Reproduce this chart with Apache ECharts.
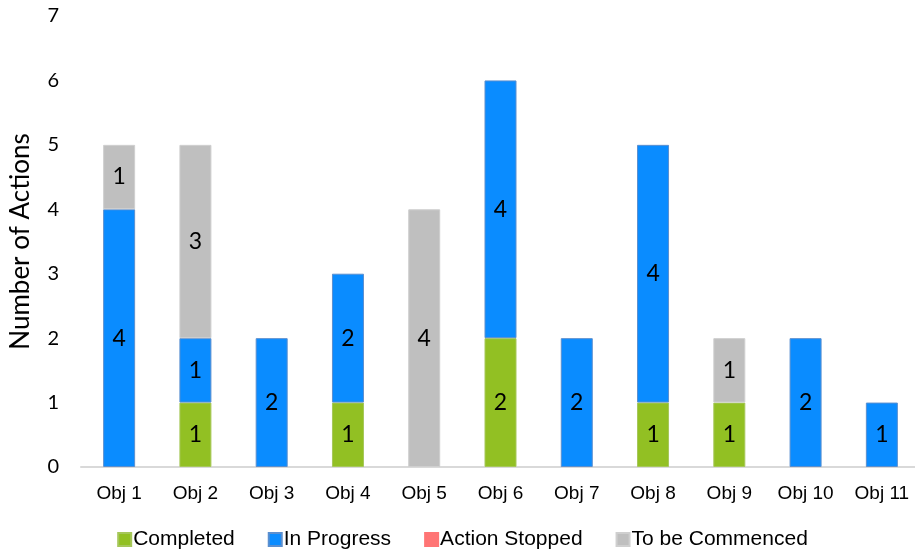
<!DOCTYPE html>
<html>
<head>
<meta charset="utf-8">
<script src="https://cdn.jsdelivr.net/npm/echarts@6/dist/echarts.min.js"></script>
<style>
  html, body { margin: 0; padding: 0; background: #fff; overflow: hidden; }
  #chart { width: 925px; height: 557px; }
</style>
</head>
<body>
<div id="chart"></div>
<script>
const categories = ['Obj 1', 'Obj 2', 'Obj 3', 'Obj 4', 'Obj 5', 'Obj 6', 'Obj 7', 'Obj 8', 'Obj 9', 'Obj 10', 'Obj 11'];
const completed = [0, 1, 0, 1, 0, 2, 0, 1, 1, 0, 0];
const inProgress = [4, 1, 2, 2, 0, 4, 2, 4, 0, 2, 1];
const actionStopped = [0, 0, 0, 0, 0, 0, 0, 0, 0, 0, 0];
const toBeCommenced = [1, 3, 0, 0, 4, 0, 0, 0, 1, 0, 0];
const yTicks = [0, 1, 2, 3, 4, 5, 6, 7];

const SANS = '"Liberation Sans", Arial, sans-serif';
const HUMANIST = 'Lato, "Open Sans", sans-serif';

function stackSeries(name, values, fill, border) {
  return {
    name: name,
    type: 'bar',
    stack: 'total',
    barWidth: 32,
    // empty segments are left out so they draw no outline
    data: values.map(v => (v ? v : null)),
    itemStyle: { color: fill, borderColor: border, borderWidth: 1 },
    label: {
      show: true,
      position: 'inside',
      color: '#000',
      fontFamily: HUMANIST,
      fontSize: 23,
      formatter: p => (p.value ? String(p.value) : '')
    },
    emphasis: { disabled: true }
  };
}

const chart = echarts.init(document.getElementById('chart'));
chart.setOption({
  animation: false,
  grid: { left: 81, top: 16, right: 5, height: 451, containLabel: false },
  legend: {
    bottom: 2,
    left: 'center',
    itemWidth: 13,
    itemHeight: 13,
    itemGap: 33,
    icon: 'rect',
    textStyle: { fontFamily: SANS, fontSize: 21, color: '#000', padding: [0, 0, 0, -3] },
    data: ['Completed', 'In Progress', 'Action Stopped', 'To be Commenced']
  },
  xAxis: {
    type: 'category',
    data: categories,
    axisLine: { lineStyle: { color: '#d9d9d9', width: 2 } },
    axisTick: { show: false },
    axisLabel: { fontFamily: SANS, fontSize: 19, color: '#000', margin: 17 }
  },
  yAxis: {
    type: 'value',
    min: yTicks[0],
    max: yTicks[yTicks.length - 1],
    interval: 1,
    name: 'Number of Actions',
    nameLocation: 'middle',
    nameGap: 47,
    nameTextStyle: { fontFamily: HUMANIST, fontSize: 26, color: '#000' },
    axisLine: { show: false },
    axisTick: { show: false },
    splitLine: { show: false },
    axisLabel: { fontFamily: HUMANIST, fontSize: 20, color: '#000', margin: 22 }
  },
  series: [
    stackSeries('Completed', completed, '#92c023', '#a6c75a'),
    stackSeries('In Progress', inProgress, '#0a8cff', '#5b8fcf'),
    stackSeries('Action Stopped', actionStopped, '#ff7575', '#ff7575'),
    stackSeries('To be Commenced', toBeCommenced, '#bfbfbf', '#cfcfcf')
  ]
});
</script>
</body>
</html>
